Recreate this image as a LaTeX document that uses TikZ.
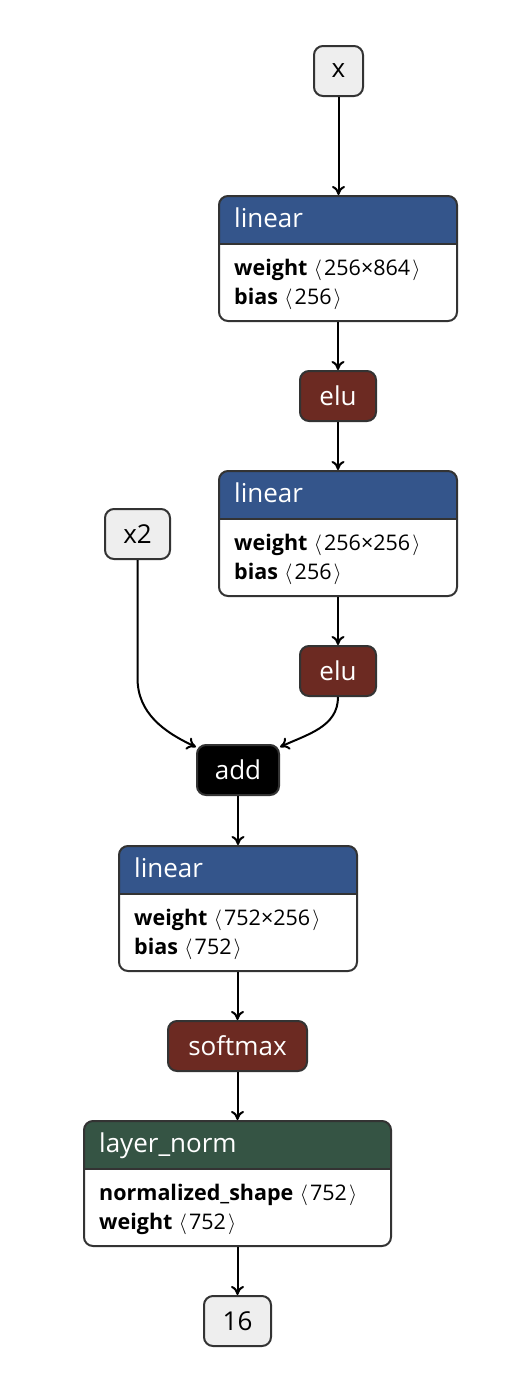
\documentclass[tikz,border=0pt]{standalone}
\usepackage{fontspec}
\setmainfont{Open Sans}
\usetikzlibrary{arrows.meta}
\definecolor{edge}{HTML}{333333}
\definecolor{iogray}{HTML}{EEEEEE}
\definecolor{opred}{HTML}{6C2A22}
\definecolor{hdrblue}{HTML}{34558B}
\definecolor{hdrgreen}{HTML}{355444}
\newcommand{\shp}[1]{\hspace{0.3em}\ensuremath{\langle}\hspace{0.1em}#1\hspace{0.1em}\ensuremath{\rangle}}
\tikzset{
  val/.style={draw=edge, line width=2pt, rounded corners=9pt, fill=iogray,
    minimum height=50pt, inner xsep=8pt, font=\fontsize{26}{26}\selectfont},
  op/.style={val, fill=opred, text=white},
  addop/.style={val, fill=black, text=white},
  layer/.style={draw=edge, line width=2pt, rounded corners=9pt, fill=white,
    minimum height=125pt, inner sep=0pt,
    path picture={
      \fill[#1, sharp corners] (path picture bounding box.north west)
        rectangle ([yshift=-48pt]path picture bounding box.north east);
      \draw[edge, line width=2pt] ([yshift=-48pt]path picture bounding box.north west)
        -- ([yshift=-48pt]path picture bounding box.north east);}},
  head/.style={anchor=base west, inner sep=0pt, text=white, font=\fontsize{26}{26}\selectfont},
  attr/.style={anchor=base west, inner sep=0pt, font=\fontsize{21.5}{21.5}\selectfont},
  arr/.style={-{To[length=9pt,width=13pt]}, line width=2pt},
}
\begin{document}
\begin{tikzpicture}[x=1pt,y=-1pt]
  \useasboundingbox (0,0) rectangle (525,1382);
  % inputs
  \node[val, minimum width=49pt] (x) at (338.5,71) {x};
  \node[val, minimum width=65pt] (x2) at (137.5,534) {x2};
  % first branch
  \node[layer=hdrblue, minimum width=238pt] (lin1) at (338,258.5) {};
  \node[head] (lin1h) at ([xshift=16pt,yshift=-32pt]lin1.north west) {linear};
  \node[attr] (lin1w) at ([xshift=16pt,yshift=-80pt]lin1.north west) {\textbf{weight}\shp{256×864}};
  \node[attr] (lin1b) at ([xshift=16pt,yshift=-109pt]lin1.north west) {\textbf{bias}\shp{256}};
  \node[op, minimum width=76pt] (elu1) at (338,396) {elu};
  \node[layer=hdrblue, minimum width=238pt] (lin2) at (338,533.5) {};
  \node[head] (lin2h) at ([xshift=16pt,yshift=-32pt]lin2.north west) {linear};
  \node[attr] (lin2w) at ([xshift=16pt,yshift=-80pt]lin2.north west) {\textbf{weight}\shp{256×256}};
  \node[attr] (lin2b) at ([xshift=16pt,yshift=-109pt]lin2.north west) {\textbf{bias}\shp{256}};
  \node[op, minimum width=76pt] (elu2) at (338,671) {elu};
  % merge
  \node[addop, minimum width=82pt] (add) at (238,770) {add};
  \node[layer=hdrblue, minimum width=238pt] (lin3) at (238,908.5) {};
  \node[head] (lin3h) at ([xshift=16pt,yshift=-32pt]lin3.north west) {linear};
  \node[attr] (lin3w) at ([xshift=16pt,yshift=-80pt]lin3.north west) {\textbf{weight}\shp{752×256}};
  \node[attr] (lin3b) at ([xshift=16pt,yshift=-109pt]lin3.north west) {\textbf{bias}\shp{752}};
  \node[op, minimum width=139pt] (soft) at (237.5,1046) {softmax};
  \node[layer=hdrgreen, minimum width=307pt] (norm) at (237.5,1183.5) {};
  \node[head] (normh) at ([xshift=16pt,yshift=-32pt]norm.north west) {layer\_norm};
  \node[attr] (normw) at ([xshift=16pt,yshift=-80pt]norm.north west) {\textbf{normalized\_shape}\shp{752}};
  \node[attr] (normb) at ([xshift=16pt,yshift=-109pt]norm.north west) {\textbf{weight}\shp{752}};
  \node[val, minimum width=67pt] (out) at (237.5,1321) {16};
  % edges
  \draw[arr] (x.south) -- (x.south |- lin1.north);
  \draw[arr] (lin1.south -| elu1.north) -- (elu1.north);
  \draw[arr] (elu1.south) -- (elu1.south |- lin2.north);
  \draw[arr] (lin2.south -| elu2.north) -- (elu2.north);
  \draw[arr] (x2.south) -- ++(0,118) to[out=-90,in=155] ([yshift=-3pt]add.north west);
  \draw[arr] (elu2.south) to[out=-90,in=25] ([yshift=-3pt]add.north east);
  \draw[arr] (add.south) -- (add.south |- lin3.north);
  \draw[arr] (lin3.south -| soft.north) -- (soft.north);
  \draw[arr] (soft.south) -- (soft.south |- norm.north);
  \draw[arr] (norm.south -| out.north) -- (out.north);
\end{tikzpicture}
\end{document}
